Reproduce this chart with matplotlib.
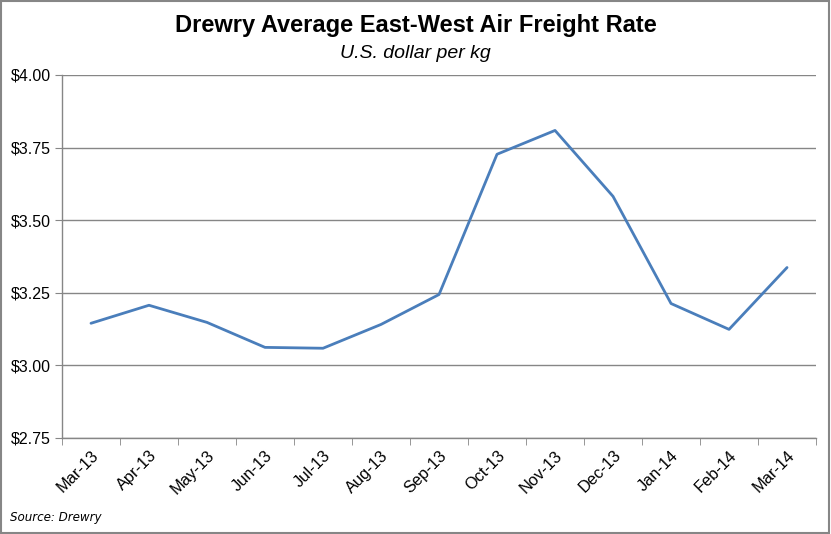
import matplotlib.pyplot as plt
import matplotlib.ticker as mticker

# Monthly Drewry East-West air freight rate (USD per kg)
months = ['Mar-13', 'Apr-13', 'May-13', 'Jun-13', 'Jul-13', 'Aug-13', 'Sep-13',
          'Oct-13', 'Nov-13', 'Dec-13', 'Jan-14', 'Feb-14', 'Mar-14']
rates = [3.145, 3.207, 3.148, 3.062, 3.059, 3.141, 3.244,
         3.727, 3.809, 3.582, 3.213, 3.124, 3.337]
y_ticks = [2.75, 3.00, 3.25, 3.50, 3.75, 4.00]

plt.rcParams['font.family'] = ['Liberation Sans', 'DejaVu Sans']
grey = '#868686'

fig = plt.figure(figsize=(8.31, 5.34), dpi=100)
ax = fig.add_axes([0.0746, 0.1798, 0.9074, 0.6798])

x = list(range(len(months)))
ax.plot(x, rates, color='#4A7EBB', linewidth=2.0, solid_capstyle='round')

ax.set_xlim(-0.5, len(months) - 0.5)
ax.set_ylim(y_ticks[0], y_ticks[-1])
ax.set_yticks(y_ticks)
ax.yaxis.set_major_formatter(mticker.FuncFormatter(lambda v, p: f'${v:.2f}'))
ax.yaxis.grid(True, color=grey, linewidth=1.0)
ax.set_axisbelow(True)

ax.set_xticks(x)
ax.set_xticklabels(months, rotation=45, ha='right', rotation_mode='anchor')
ax.set_xticks([i - 0.5 for i in range(len(months) + 1)], minor=True)
ax.tick_params(axis='x', which='major', length=0, pad=7, labelsize=11.8)
ax.tick_params(axis='x', which='minor', length=5, color=grey, direction='out')
ax.tick_params(axis='y', length=5, color=grey, labelsize=11.5, pad=3)

for side in ['top', 'right']:
    ax.spines[side].set_visible(False)
for side in ['left', 'bottom']:
    ax.spines[side].set_color(grey)
    ax.spines[side].set_linewidth(1.0)

fig.text(0.5, 0.953, 'Drewry Average East-West Air Freight Rate', ha='center', va='center',
         fontsize=17, fontweight='bold')
fig.text(0.5, 0.899, 'U.S. dollar per kg', ha='center', va='center',
         fontsize=14, style='italic')
fig.text(0.012, 0.031, 'Source: Drewry', ha='left', va='center', fontsize=8.6,
         style='italic', family='DejaVu Sans')

# outer border
fig.patches.append(plt.Rectangle((0.001, 0.001), 0.997, 0.997, transform=fig.transFigure,
                                 fill=False, edgecolor=grey, linewidth=1.5))

fig.savefig('out.png', dpi=100)
